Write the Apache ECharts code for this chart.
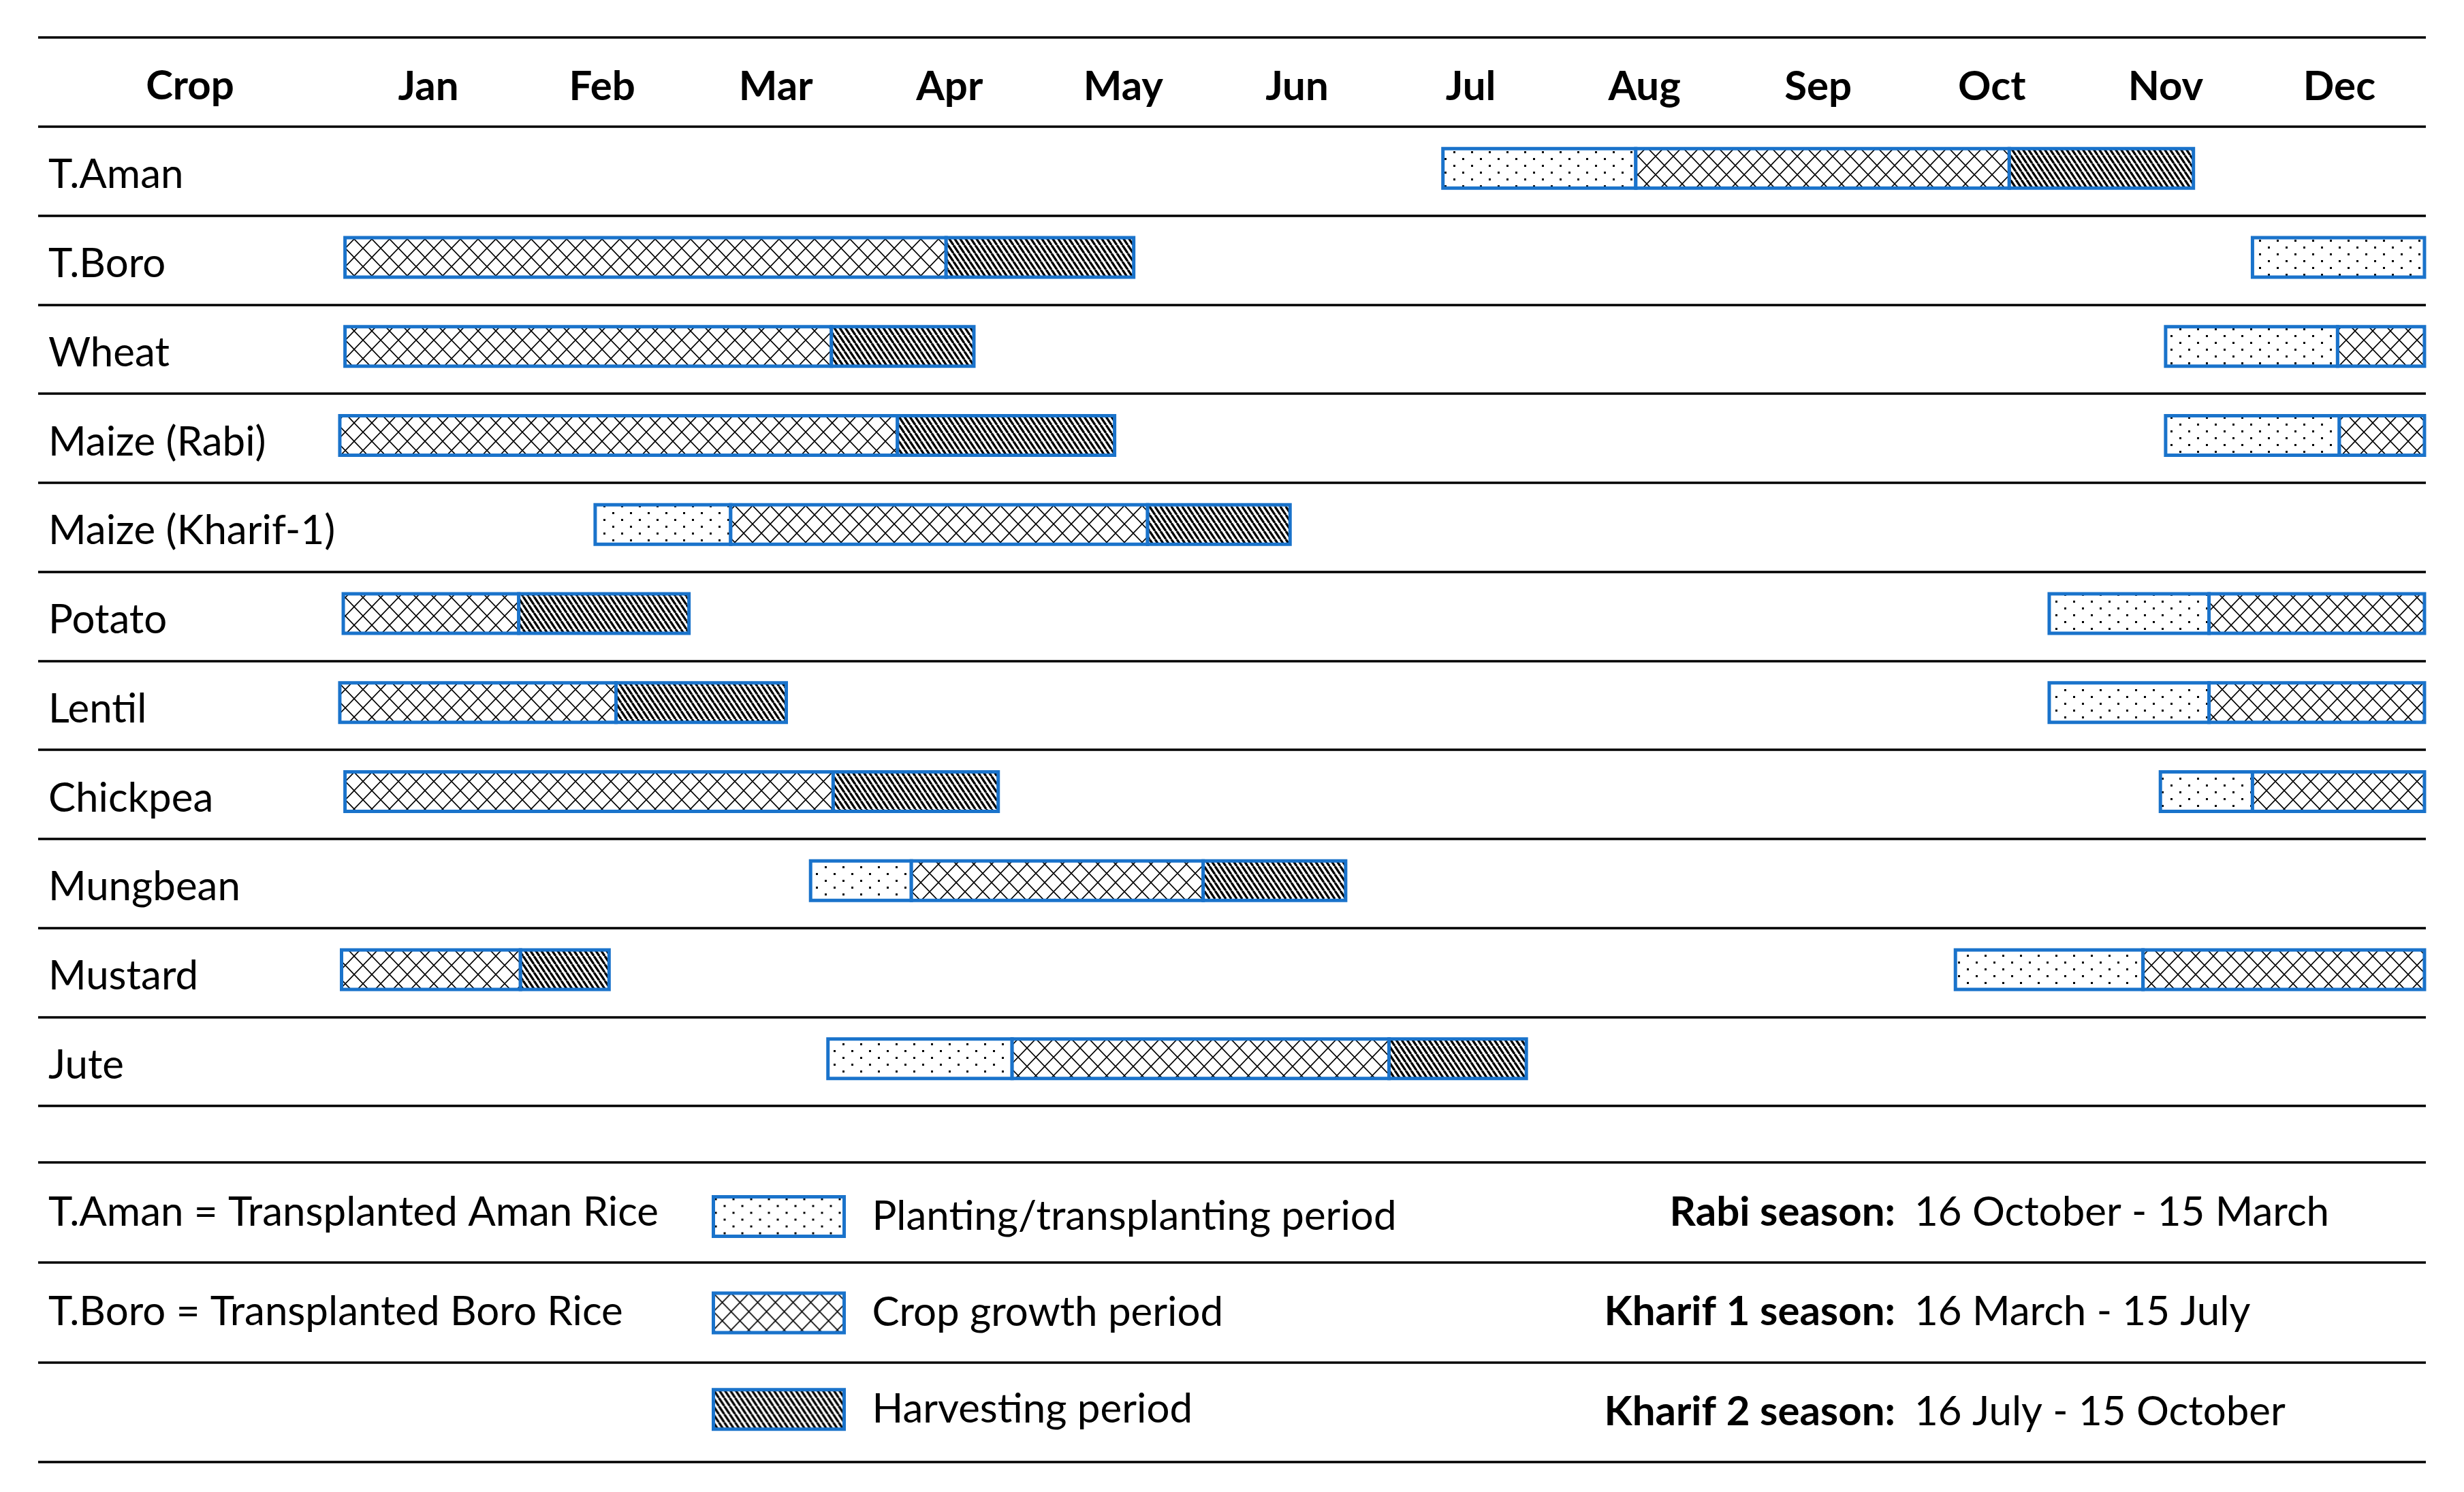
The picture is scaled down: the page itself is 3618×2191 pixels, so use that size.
<!DOCTYPE html>
<html>
<head>
<meta http-equiv="Content-Type" content="text/html; charset=utf-8" />
<title>Crop calendar</title>
<script type="text/javascript" src="https://cdn.jsdelivr.net/npm/echarts@6/dist/echarts.min.js"></script>
<style>
  html, body { margin: 0; padding: 0; background: #fff; }
  #calendar { width: 3618px; height: 2191px; }
</style>
</head>
<body>
<div id="calendar"></div>
<script type="text/javascript">
	// table content
	var headerLabel = 'Crop';
	var months = ['Jan','Feb','Mar','Apr','May','Jun','Jul','Aug','Sep','Oct','Nov','Dec'];
	var crops = ['T.Aman','T.Boro','Wheat','Maize (Rabi)','Maize (Kharif-1)','Potato','Lentil','Chickpea','Mungbean','Mustard','Jute'];

	// periods: [crop index, start, end] in months from 1 Jan (0) to 31 Dec (12)
	var plantingPeriods = [
		[0, 6.34, 7.45], [1, 11.0, 11.99], [2, 10.5, 11.49], [3, 10.5, 11.5],
		[4, 1.46, 2.24], [5, 9.83, 10.75], [6, 9.83, 10.75], [7, 10.47, 11.0],
		[8, 2.70, 3.28], [9, 9.29, 10.37], [10, 2.80, 3.86]
	];
	var growthPeriods = [
		[0, 7.45, 9.6], [1, 0.02, 3.48], [2, 0.02, 2.82], [2, 11.49, 11.99],
		[3, -0.01, 3.2], [3, 11.5, 11.99], [4, 2.24, 4.64], [5, 0.01, 1.02],
		[5, 10.75, 11.99], [6, -0.01, 1.58], [6, 10.75, 11.99], [7, 0.02, 2.83],
		[7, 11.0, 11.99], [8, 3.28, 4.96], [9, 0.0, 1.03], [9, 10.37, 11.99],
		[10, 3.86, 6.03]
	];
	var harvestPeriods = [
		[0, 9.6, 10.66], [1, 3.48, 4.56], [2, 2.82, 3.64], [3, 3.2, 4.45],
		[4, 4.64, 5.46], [5, 1.02, 2.0], [6, 1.58, 2.56], [7, 2.83, 3.78],
		[8, 4.96, 5.78], [9, 1.03, 1.54], [10, 6.03, 6.82]
	];

	// notes under the table
	var periodNames = ['Planting/transplanting period', 'Crop growth period', 'Harvesting period'];
	var cropNotes = ['T.Aman = Transplanted Aman Rice', 'T.Boro = Transplanted Boro Rice', ''];
	var seasonNames = ['Rabi season:', 'Kharif 1 season:', 'Kharif 2 season:'];
	var seasonDates = ['16 October - 15 March', '16 March - 15 July', '16 July - 15 October'];

	var FONT = 'Lato';
	var BLUE = '#1a73cb';

	// fill patterns like the excel ones
	function makePattern(kind){
		var c = document.createElement('canvas');
		var ctx;
		if(kind == 'dots'){
			c.width = 26; c.height = 20;
			ctx = c.getContext('2d');
			ctx.fillStyle = '#fff'; ctx.fillRect(0, 0, 26, 20);
			ctx.fillStyle = '#000';
			ctx.fillRect(2, 2, 3, 3);
			ctx.fillRect(15, 12, 3, 3);
		}else if(kind == 'cross'){
			c.width = 26; c.height = 27;
			ctx = c.getContext('2d');
			ctx.fillStyle = '#fff'; ctx.fillRect(0, 0, 26, 27);
			ctx.strokeStyle = '#000'; ctx.lineWidth = 1.6;
			ctx.beginPath();
			ctx.moveTo(0, 0); ctx.lineTo(26, 27);
			ctx.moveTo(26, 0); ctx.lineTo(0, 27);
			ctx.stroke();
		}else{
			c.width = 8; c.height = 12;
			ctx = c.getContext('2d');
			ctx.fillStyle = '#fff'; ctx.fillRect(0, 0, 8, 12);
			ctx.strokeStyle = '#000'; ctx.lineWidth = 3.4;
			ctx.beginPath();
			for(var k = -8; k <= 8; k += 8){
				ctx.moveTo(k, 0); ctx.lineTo(k + 8, 12);
			}
			ctx.stroke();
		}
		return { image: c, repeat: 'repeat' };
	}

	function renderSegment(params, api){
		var row = api.value(0);
		var p0 = api.coord([api.value(1), row]);
		var p1 = api.coord([api.value(2), row]);
		var h = 58;
		return {
			type: 'rect',
			shape: { x: p0[0], y: p0[1] - h / 2 - 4, width: p1[0] - p0[0], height: h },
			style: api.style()
		};
	}

	function periodSeries(name, kind, data){
		return {
			name: name,
			type: 'custom',
			xAxisIndex: 0,
			yAxisIndex: 1,
			renderItem: renderSegment,
			itemStyle: { color: makePattern(kind), borderColor: BLUE, borderWidth: 5 },
			encode: { x: [1, 2], y: 0 },
			data: data
		};
	}

	var tableLine = { show: true, interval: 0, lineStyle: { color: '#000', width: 3.5 } };
	var noLine = { show: false };

	// a label-only axis for one column of the notes
	function noteColumn(data, position, margin, bold){
		return {
			type: 'category', gridIndex: 2, inverse: true, position: position, data: data,
			axisLine: noLine, axisTick: noLine, splitLine: noLine,
			axisLabel: {
				inside: true, margin: margin, interval: 0, padding: [12, 0, 0, 0],
				fontFamily: FONT, fontSize: 60, fontWeight: bold ? 'bold' : 'normal', color: '#000'
			}
		};
	}

	var chart = echarts.init(document.getElementById('calendar'));
	var option = {
		animation: false,
		textStyle: { fontFamily: FONT },
		grid: [
			{ left: 56, right: 56, top: 55, bottom: 567 },       // lines + crop names
			{ left: 501.5, right: 55.5, top: 185.75, bottom: 567 },  // month area
			{ left: 56, right: 56, top: 1707, bottom: 44 }       // notes
		],
		xAxis: [
			{ type: 'value', gridIndex: 1, min: 0, max: 12, show: false },
			{
				type: 'category', gridIndex: 1, position: 'top', data: months,
				axisLine: noLine, axisTick: noLine, splitLine: noLine,
				axisLabel: { interval: 0, margin: 58, verticalAlign: 'middle', fontFamily: FONT, fontSize: 60, fontWeight: 'bold', color: '#000' }
			},
			{ type: 'value', gridIndex: 0, min: 0, max: 1, show: false },
			{ type: 'value', gridIndex: 2, min: 0, max: 1, show: false }
		],
		yAxis: [
			{
				type: 'category', gridIndex: 0, inverse: true, data: [headerLabel].concat(crops),
				axisLine: noLine, axisTick: noLine, splitLine: tableLine,
				axisLabel: {
					inside: true, margin: 15, interval: 0, padding: [12, 0, 0, 0],
					fontFamily: FONT, fontSize: 60, color: '#000',
					formatter: function(v, i){ return i == 0 ? '{h|' + v + '}' : v; },
					rich: { h: { width: 416, align: 'center', fontFamily: FONT, fontSize: 60, fontWeight: 'bold', color: '#000' } }
				}
			},
			{ type: 'category', gridIndex: 1, inverse: true, data: crops, show: false },
			{
				type: 'category', gridIndex: 2, inverse: true, data: cropNotes,
				axisLine: noLine, axisTick: noLine, splitLine: tableLine,
				axisLabel: {
					inside: true, margin: 15, interval: 0, padding: [12, 0, 0, 0],
					fontFamily: FONT, fontSize: 60, color: '#000'
				}
			},
			noteColumn(seasonNames, 'right', 779, true),
			noteColumn(seasonDates, 'left', 2755, false)
		],
		legend: {
			data: periodNames,
			orient: 'vertical',
			left: 1040,
			top: 1750,
			icon: 'rect',
			itemWidth: 192,
			itemHeight: 58,
			itemGap: 78.6,
			selectedMode: false,
			itemStyle: { borderColor: BLUE, borderWidth: 5 },
			textStyle: { fontFamily: FONT, fontSize: 60, lineHeight: 58, color: '#000', padding: [0, 0, 0, 36] }
		},
		series: [
			periodSeries(periodNames[0], 'dots', plantingPeriods),
			periodSeries(periodNames[1], 'cross', growthPeriods),
			periodSeries(periodNames[2], 'hatch', harvestPeriods)
		]
	};
	chart.setOption(option);
</script>
</body>
</html>
